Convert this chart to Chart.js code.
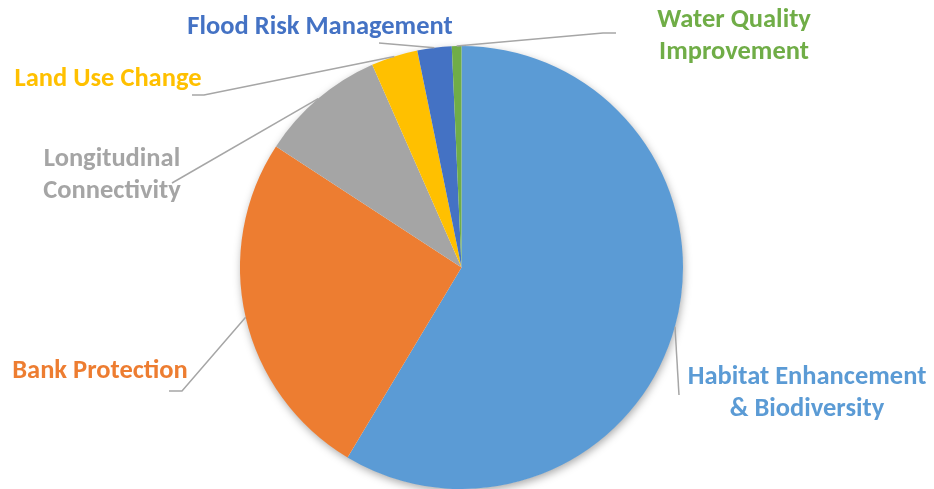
<!DOCTYPE html>
<html>
<head>
<meta charset="utf-8">
<title>River restoration measures</title>
<script src="https://cdn.jsdelivr.net/npm/chart.js@4"></script>
<style>
    html, body { margin: 0; padding: 0; background: #fff; }
    #measuresChart { display: block; }
</style>
</head>
<body>
<canvas id="measuresChart" width="934" height="489"></canvas>
<script>
// Chart data
const categories = [
    ['Habitat Enhancement', '& Biodiversity'],
    ['Bank Protection'],
    ['Longitudinal', 'Connectivity'],
    ['Land Use Change'],
    ['Flood Risk Management'],
    ['Water Quality', 'Improvement']
];
const shares = [58.6, 25.6, 9.2, 3.4, 2.5, 0.7];
const sliceColors = ['#5B9BD5', '#ED7D31', '#A5A5A5', '#FFC000', '#4472C4', '#70AD47'];

// Where each outside label sits and how its leader line bends
const labelLayout = [
    { x: 807, y: 377, elbow: [679, 395], end: null },
    { x: 100, y: 371, elbow: [182, 391], end: [169, 391] },
    { x: 112, y: 159, elbow: [172, 183], end: null },
    { x: 108, y: 79,  elbow: [204, 95],  end: [192, 95] },
    { x: 320, y: 27,  elbow: [379, 43],  end: null },
    { x: 734, y: 20,  elbow: [603, 33],  end: [616, 33] }
];

// Soft shadow under the whole pie
const pieShadow = {
    id: 'pieShadow',
    beforeDatasetsDraw(chart) {
        const arc = chart.getDatasetMeta(0).data[0];
        if (!arc) return;
        const ctx = chart.ctx;
        ctx.save();
        ctx.shadowColor = 'rgba(0,0,0,0.35)';
        ctx.shadowBlur = 9;
        ctx.shadowOffsetX = 1;
        ctx.shadowOffsetY = 3;
        ctx.fillStyle = '#fff';
        ctx.beginPath();
        ctx.arc(arc.x, arc.y, arc.outerRadius - 0.5, 0, Math.PI * 2);
        ctx.fill();
        ctx.restore();
    }
};

// Labels outside the pie with leader lines
const outsideLabels = {
    id: 'outsideLabels',
    afterDatasetsDraw(chart) {
        const ctx = chart.ctx;
        const meta = chart.getDatasetMeta(0);
        meta.data.forEach((arc, i) => {
            const layout = labelLayout[i];
            const mid = (arc.startAngle + arc.endAngle) / 2;
            const sx = arc.x + Math.cos(mid) * arc.outerRadius;
            const sy = arc.y + Math.sin(mid) * arc.outerRadius;

            ctx.save();
            ctx.strokeStyle = '#A6A6A6';
            ctx.lineWidth = 1.5;
            ctx.beginPath();
            ctx.moveTo(sx, sy);
            ctx.lineTo(layout.elbow[0], layout.elbow[1]);
            if (layout.end) ctx.lineTo(layout.end[0], layout.end[1]);
            ctx.stroke();

            ctx.fillStyle = sliceColors[i];
            ctx.font = 'bold 26.5px Carlito, Lato, sans-serif';
            ctx.textAlign = 'center';
            ctx.textBaseline = 'middle';
            categories[i].forEach((line, k) => {
                ctx.fillText(line, layout.x, layout.y + k * 32);
            });
            ctx.restore();
        });
    }
};

const ctx = document.getElementById('measuresChart').getContext('2d');
new Chart(ctx, {
    type: 'pie',
    data: {
        labels: categories.map(c => c.join(' ')),
        datasets: [{
            data: shares,
            backgroundColor: sliceColors,
            borderWidth: 0
        }]
    },
    options: {
        responsive: false,
        animation: false,
        layout: { padding: { top: 46, bottom: 0, left: 0, right: 11 } },
        plugins: {
            legend: { display: false },
            tooltip: { enabled: false }
        }
    },
    plugins: [pieShadow, outsideLabels]
});
</script>
</body>
</html>
